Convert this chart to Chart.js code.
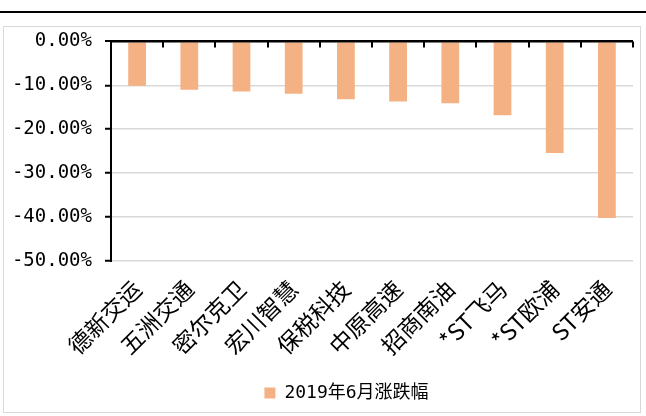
<!DOCTYPE html>
<html>
<head>
<meta charset="utf-8">
<script src="https://cdn.jsdelivr.net/npm/chart.js@4.4.0/dist/chart.umd.min.js"></script>
<style>
  body { margin: 0; background: #fff; width: 646px; height: 416px; position: relative; overflow: hidden; }
  .rule { position: absolute; left: 0; top: 11px; width: 646px; height: 2px; background: #000; }
  .box { position: absolute; left: 3px; top: 26px; width: 638px; height: 387px; border: 1px solid #d9d9d9; box-sizing: border-box; overflow: hidden; }
  canvas { display: block; margin-top: -10px; }
</style>
</head>
<body>
<div class="rule"></div>
<div class="box"><canvas id="dropChart" width="636" height="395"></canvas></div>
<script>
// stocks and their June 2019 change (%)
const stocks = ['德新交运', '五洲交通', '密尔克卫', '宏川智慧', '保税科技', '中原高速', '招商南油', '*ST飞马', '*ST欧浦', 'ST安通'];
const juneChange = [-10.1, -11.0, -11.4, -11.9, -13.2, -13.7, -14.1, -16.8, -25.4, -40.2];
const seriesName = '2019年6月涨跌幅';
const yTicks = [0, -10, -20, -30, -40, -50];

const monoFont = "'DejaVu Sans Mono', 'Noto Sans CJK SC', sans-serif";
Chart.defaults.color = '#000';

// draw the small tick marks hanging down from the zero line between categories
const topTicks = {
  id: 'topTicks',
  afterDatasetsDraw(chart) {
    const { ctx, chartArea, scales } = chart;
    const x = scales.x;
    const y0 = scales.y.getPixelForValue(0);
    const half = (x.getPixelForValue(1) - x.getPixelForValue(0)) / 2;
    ctx.save();
    ctx.strokeStyle = '#000';
    ctx.lineWidth = 2;
    ctx.beginPath();
    ctx.moveTo(chartArea.left, y0);
    ctx.lineTo(chartArea.right, y0);
    for (let i = 0; i < stocks.length; i++) {
      const px = Math.round(x.getPixelForValue(i) + half);
      ctx.moveTo(px, y0);
      ctx.lineTo(px, y0 + 6);
    }
    ctx.stroke();
    ctx.restore();
  }
};

// the original legend sits a bit right of centre
const nudgeLegend = {
  id: 'nudgeLegend',
  afterLayout(chart) {
    if (chart.legend) {
      chart.legend.left += 28;
      chart.legend.right += 28;
    }
  }
};

const ctx = document.getElementById('dropChart').getContext('2d');
new Chart(ctx, {
  type: 'bar',
  data: {
    labels: stocks,
    datasets: [{
      label: seriesName,
      data: juneChange,
      backgroundColor: '#F4B183',
      borderWidth: 0,
      categoryPercentage: 1,
      barPercentage: 0.34
    }]
  },
  options: {
    responsive: false,
    animation: false,
    layout: { padding: { top: 4, right: 7, left: 0, bottom: 0 } },
    plugins: {
      legend: {
        position: 'bottom',
        labels: {
          boxWidth: 11,
          boxHeight: 11,
          padding: 10,
          font: { family: monoFont, size: 18 }
        }
      },
      tooltip: { enabled: false }
    },
    scales: {
      x: {
        grid: { display: false },
        border: { display: false },
        ticks: {
          minRotation: 45,
          maxRotation: 45,
          autoSkip: false,
          padding: 6,
          font: { family: "'Noto Sans CJK SC', sans-serif", size: 23 }
        },
        afterFit(scale) { scale.height = 113; }
      },
      y: {
        min: -50,
        max: 0,
        afterBuildTicks(scale) { scale.ticks = yTicks.map(v => ({ value: v })); },
        border: { color: '#000', width: 2 },
        grid: {
          color: c => c.tick && c.tick.value === 0 ? '#000' : '#d9d9d9',
          lineWidth: c => c.tick && c.tick.value === 0 ? 2 : 1.5,
          tickColor: '#000',
          tickLength: 6,
          tickWidth: 2
        },
        ticks: {
          padding: 13,
          font: { family: monoFont, size: 19 },
          callback: v => v.toFixed(2) + '%'
        },
        afterFit(scale) { scale.width = 107; }
      }
    }
  },
  plugins: [topTicks, nudgeLegend]
});
</script>
</body>
</html>
